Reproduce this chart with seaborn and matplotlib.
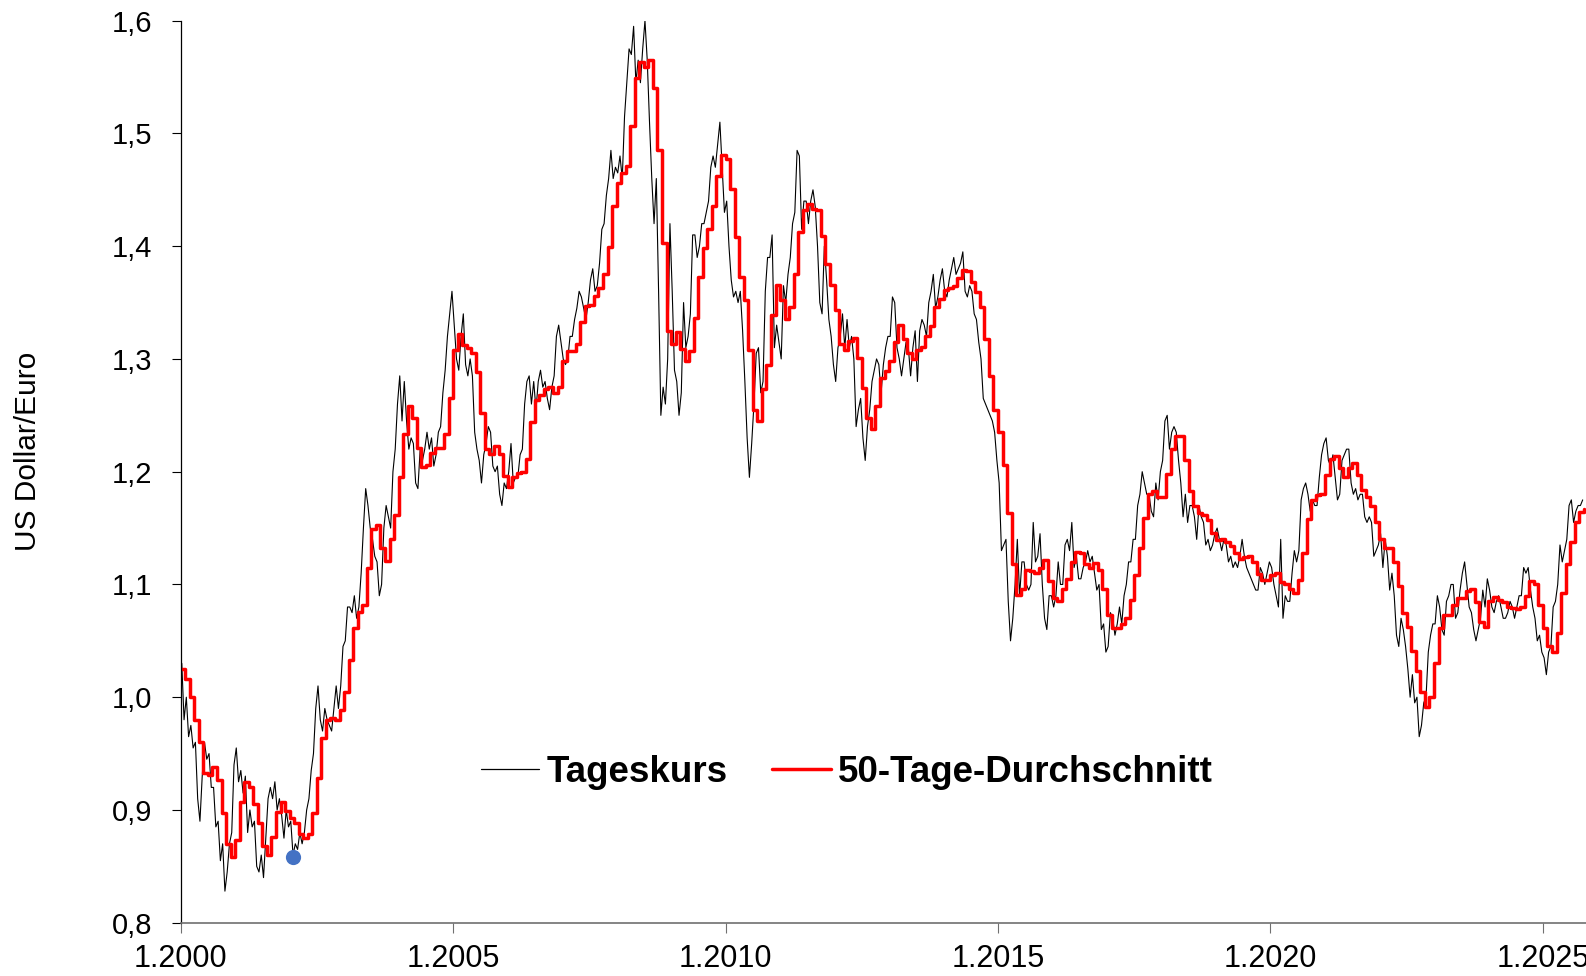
import matplotlib
matplotlib.use('Agg')
import matplotlib.pyplot as plt
import numpy as np
import seaborn as sns
from matplotlib.lines import Line2D
from matplotlib.ticker import FuncFormatter

sns.set_style('white')
plt.rcParams['font.family'] = ['Liberation Sans', 'DejaVu Sans']
plt.rcParams['text.color'] = 'black'
plt.rcParams['axes.labelcolor'] = 'black'
plt.rcParams['xtick.color'] = 'black'
plt.rcParams['ytick.color'] = 'black'

# Tageskurs: two readings per month (first half, second half), Jan 2000 .. Sep 2025
kurs_2000 = [1.03, 0.98, 1.00, 0.965, 0.975, 0.955, 0.96, 0.91, 0.89, 0.93, 0.96, 0.945,
             0.95, 0.92, 0.92, 0.885, 0.89, 0.855, 0.87, 0.828, 0.845, 0.87, 0.88, 0.94]
kurs_2001 = [0.955, 0.925, 0.935, 0.915, 0.93, 0.88, 0.90, 0.885, 0.89, 0.85, 0.845, 0.86,
             0.84, 0.875, 0.91, 0.92, 0.91, 0.925, 0.90, 0.91, 0.895, 0.875, 0.90, 0.885]
kurs_2002 = [0.89, 0.86, 0.87, 0.865, 0.88, 0.87, 0.88, 0.90, 0.91, 0.935, 0.95, 0.99,
             1.01, 0.98, 0.97, 0.99, 0.98, 0.975, 0.97, 0.99, 1.01, 0.99, 1.01, 1.045]
kurs_2003 = [1.05, 1.08, 1.08, 1.075, 1.09, 1.07, 1.08, 1.11, 1.15, 1.185, 1.17, 1.15,
             1.14, 1.125, 1.12, 1.09, 1.10, 1.15, 1.17, 1.16, 1.15, 1.20, 1.22, 1.26]
kurs_2004 = [1.285, 1.245, 1.28, 1.245, 1.22, 1.23, 1.225, 1.19, 1.185, 1.22, 1.21, 1.22,
             1.235, 1.22, 1.23, 1.205, 1.215, 1.235, 1.24, 1.27, 1.29, 1.32, 1.34, 1.36]
kurs_2005 = [1.33, 1.30, 1.29, 1.32, 1.34, 1.295, 1.285, 1.30, 1.285, 1.235, 1.22, 1.21,
             1.19, 1.215, 1.225, 1.24, 1.235, 1.205, 1.20, 1.205, 1.18, 1.17, 1.19, 1.185]
kurs_2006 = [1.20, 1.225, 1.19, 1.195, 1.195, 1.215, 1.22, 1.26, 1.28, 1.285, 1.26, 1.28,
             1.255, 1.28, 1.29, 1.275, 1.28, 1.265, 1.255, 1.275, 1.285, 1.32, 1.33, 1.315]
kurs_2007 = [1.30, 1.295, 1.30, 1.32, 1.32, 1.335, 1.345, 1.36, 1.355, 1.345, 1.335, 1.35,
             1.37, 1.38, 1.36, 1.365, 1.385, 1.415, 1.42, 1.445, 1.46, 1.485, 1.46, 1.47]
kurs_2008 = [1.465, 1.48, 1.46, 1.515, 1.545, 1.575, 1.57, 1.595, 1.545, 1.565, 1.545, 1.575,
             1.60, 1.565, 1.51, 1.46, 1.42, 1.46, 1.36, 1.25, 1.275, 1.26, 1.30, 1.42]
kurs_2009 = [1.36, 1.29, 1.28, 1.25, 1.27, 1.35, 1.31, 1.32, 1.34, 1.41, 1.41, 1.39,
             1.40, 1.42, 1.42, 1.43, 1.44, 1.47, 1.48, 1.47, 1.49, 1.51, 1.47, 1.43]
kurs_2010 = [1.44, 1.40, 1.37, 1.355, 1.36, 1.35, 1.36, 1.325, 1.28, 1.23, 1.195, 1.225,
             1.26, 1.305, 1.31, 1.27, 1.28, 1.36, 1.39, 1.39, 1.41, 1.31, 1.33, 1.315]
kurs_2011 = [1.30, 1.365, 1.35, 1.375, 1.39, 1.42, 1.43, 1.485, 1.48, 1.415, 1.44, 1.44,
             1.42, 1.44, 1.45, 1.435, 1.40, 1.35, 1.34, 1.40, 1.37, 1.335, 1.32, 1.295]
kurs_2012 = [1.28, 1.31, 1.32, 1.34, 1.31, 1.335, 1.31, 1.32, 1.30, 1.24, 1.255, 1.265,
             1.23, 1.21, 1.24, 1.255, 1.28, 1.29, 1.30, 1.295, 1.27, 1.295, 1.31, 1.32]
kurs_2013 = [1.32, 1.355, 1.35, 1.31, 1.30, 1.285, 1.30, 1.315, 1.31, 1.285, 1.31, 1.325,
             1.28, 1.325, 1.335, 1.33, 1.32, 1.35, 1.36, 1.375, 1.345, 1.355, 1.37, 1.38]
kurs_2014 = [1.36, 1.355, 1.37, 1.38, 1.39, 1.375, 1.38, 1.385, 1.395, 1.36, 1.355, 1.365,
             1.36, 1.34, 1.335, 1.315, 1.30, 1.265, 1.26, 1.255, 1.25, 1.245, 1.235, 1.21]
kurs_2015 = [1.19, 1.13, 1.135, 1.14, 1.085, 1.05, 1.07, 1.10, 1.14, 1.09, 1.12, 1.12,
             1.10, 1.095, 1.10, 1.155, 1.12, 1.125, 1.145, 1.10, 1.07, 1.06, 1.09, 1.09]
kurs_2016 = [1.08, 1.09, 1.12, 1.10, 1.10, 1.135, 1.14, 1.13, 1.155, 1.115, 1.125, 1.105,
             1.105, 1.115, 1.12, 1.13, 1.12, 1.125, 1.11, 1.095, 1.10, 1.06, 1.065, 1.04]
kurs_2017 = [1.045, 1.075, 1.07, 1.055, 1.065, 1.08, 1.065, 1.09, 1.10, 1.12, 1.12, 1.14,
             1.14, 1.17, 1.18, 1.20, 1.19, 1.18, 1.18, 1.165, 1.16, 1.19, 1.175, 1.20]
kurs_2018 = [1.21, 1.245, 1.25, 1.22, 1.235, 1.24, 1.235, 1.21, 1.19, 1.16, 1.18, 1.155,
             1.17, 1.17, 1.16, 1.14, 1.17, 1.16, 1.155, 1.135, 1.14, 1.13, 1.135, 1.145]
kurs_2019 = [1.15, 1.14, 1.13, 1.14, 1.135, 1.12, 1.125, 1.115, 1.12, 1.115, 1.125, 1.14,
             1.125, 1.115, 1.11, 1.105, 1.10, 1.095, 1.095, 1.115, 1.11, 1.10, 1.11, 1.12]
kurs_2020 = [1.115, 1.10, 1.09, 1.08, 1.14, 1.07, 1.09, 1.085, 1.085, 1.11, 1.13, 1.12,
             1.13, 1.175, 1.185, 1.19, 1.18, 1.165, 1.175, 1.17, 1.17, 1.195, 1.215, 1.225]
kurs_2021 = [1.23, 1.21, 1.205, 1.215, 1.195, 1.175, 1.18, 1.21, 1.215, 1.22, 1.22, 1.19,
             1.18, 1.185, 1.175, 1.18, 1.18, 1.16, 1.155, 1.16, 1.155, 1.125, 1.13, 1.135]
kurs_2022 = [1.145, 1.115, 1.14, 1.125, 1.095, 1.11, 1.09, 1.055, 1.045, 1.07, 1.06, 1.045,
             1.025, 1.00, 1.02, 0.995, 1.00, 0.965, 0.975, 0.995, 1.00, 1.04, 1.055, 1.065]
kurs_2023 = [1.065, 1.09, 1.08, 1.06, 1.055, 1.085, 1.09, 1.10, 1.10, 1.07, 1.075, 1.095,
             1.11, 1.12, 1.10, 1.08, 1.075, 1.06, 1.05, 1.06, 1.07, 1.095, 1.08, 1.105]
kurs_2024 = [1.095, 1.08, 1.075, 1.085, 1.09, 1.08, 1.07, 1.07, 1.075, 1.085, 1.08, 1.07,
             1.08, 1.09, 1.09, 1.115, 1.11, 1.115, 1.095, 1.08, 1.07, 1.05, 1.055, 1.04]
kurs_2025 = [1.035, 1.02, 1.04, 1.045, 1.08, 1.085, 1.10, 1.135, 1.12, 1.13, 1.14, 1.17,
             1.175, 1.155, 1.165, 1.17, 1.17, 1.175]

# 50-Tage-Durchschnitt at each month end (start value = end of 1999)
schnitt_start = [1.025]
schnitt_2000 = [1.016, 1.000, 0.980, 0.960, 0.933, 0.931, 0.938, 0.927, 0.897, 0.870, 0.858, 0.873]
schnitt_2001 = [0.907, 0.925, 0.920, 0.905, 0.888, 0.868, 0.860, 0.876, 0.898, 0.907, 0.899, 0.893]
schnitt_2002 = [0.888, 0.879, 0.875, 0.879, 0.897, 0.928, 0.964, 0.980, 0.982, 0.980, 0.989, 1.005]
schnitt_2003 = [1.033, 1.061, 1.076, 1.082, 1.115, 1.149, 1.153, 1.132, 1.121, 1.140, 1.162, 1.195]
schnitt_2004 = [1.233, 1.258, 1.248, 1.221, 1.204, 1.206, 1.217, 1.221, 1.221, 1.233, 1.265, 1.308]
schnitt_2005 = [1.322, 1.312, 1.310, 1.305, 1.288, 1.252, 1.220, 1.216, 1.223, 1.216, 1.196, 1.186]
schnitt_2006 = [1.195, 1.199, 1.200, 1.211, 1.244, 1.264, 1.268, 1.273, 1.275, 1.270, 1.275, 1.298]
schnitt_2007 = [1.307, 1.307, 1.313, 1.333, 1.347, 1.348, 1.356, 1.363, 1.375, 1.399, 1.436, 1.456]
schnitt_2008 = [1.465, 1.471, 1.507, 1.549, 1.563, 1.559, 1.565, 1.540, 1.485, 1.403, 1.325, 1.313]
schnitt_2009 = [1.324, 1.309, 1.298, 1.307, 1.336, 1.373, 1.398, 1.415, 1.436, 1.462, 1.481, 1.477]
schnitt_2010 = [1.451, 1.408, 1.373, 1.352, 1.308, 1.255, 1.245, 1.273, 1.295, 1.339, 1.366, 1.352]
schnitt_2011 = [1.335, 1.346, 1.375, 1.413, 1.432, 1.437, 1.433, 1.432, 1.409, 1.384, 1.366, 1.343]
schnitt_2012 = [1.313, 1.308, 1.316, 1.319, 1.301, 1.274, 1.248, 1.238, 1.258, 1.283, 1.289, 1.298]
schnitt_2013 = [1.315, 1.330, 1.318, 1.305, 1.300, 1.308, 1.311, 1.320, 1.329, 1.346, 1.353, 1.361]
schnitt_2014 = [1.363, 1.365, 1.372, 1.379, 1.378, 1.368, 1.359, 1.346, 1.318, 1.285, 1.255, 1.235]
schnitt_2015 = [1.206, 1.163, 1.118, 1.091, 1.096, 1.113, 1.112, 1.110, 1.115, 1.122, 1.103, 1.088]
schnitt_2016 = [1.085, 1.096, 1.105, 1.120, 1.129, 1.128, 1.118, 1.115, 1.119, 1.113, 1.096, 1.073]
schnitt_2017 = [1.061, 1.061, 1.065, 1.070, 1.086, 1.108, 1.132, 1.159, 1.180, 1.183, 1.178, 1.178]
schnitt_2018 = [1.198, 1.220, 1.232, 1.232, 1.210, 1.183, 1.170, 1.163, 1.162, 1.157, 1.146, 1.139]
schnitt_2019 = [1.140, 1.138, 1.134, 1.128, 1.123, 1.124, 1.125, 1.120, 1.109, 1.104, 1.104, 1.108]
schnitt_2020 = [1.110, 1.102, 1.100, 1.096, 1.092, 1.104, 1.128, 1.158, 1.175, 1.179, 1.180, 1.197]
schnitt_2021 = [1.211, 1.214, 1.203, 1.195, 1.203, 1.208, 1.197, 1.184, 1.178, 1.170, 1.155, 1.140]
schnitt_2022 = [1.132, 1.132, 1.120, 1.099, 1.075, 1.062, 1.041, 1.023, 1.005, 0.991, 1.000, 1.030]
schnitt_2023 = [1.061, 1.073, 1.073, 1.082, 1.088, 1.088, 1.094, 1.096, 1.084, 1.067, 1.062, 1.085]
schnitt_2024 = [1.089, 1.086, 1.084, 1.080, 1.079, 1.078, 1.080, 1.090, 1.103, 1.100, 1.082, 1.061]
schnitt_2025 = [1.045, 1.040, 1.057, 1.092, 1.118, 1.138, 1.155, 1.164, 1.167]

# marked point (blue dot)
punkt_jahr = [2002.07]
punkt_kurs = [0.858]

y_ticks = [0.8, 0.9, 1.0, 1.1, 1.2, 1.3, 1.4, 1.5, 1.6]
x_ticks = [2000, 2005, 2010, 2015, 2020, 2025]


def collect(prefix):
    g = globals()
    values = []
    for year in range(2000, 2026):
        values += g[f'{prefix}_{year}']
    return np.array(values)


def plot():
    kurs = collect('kurs')
    schnitt = np.array(schnitt_start + list(collect('schnitt')))

    kurs_x = 2000 + (np.arange(len(kurs)) + 0.5) / 24
    schnitt_x = 2000 + np.arange(len(schnitt)) / 12

    fig = plt.figure(figsize=(15.86, 9.76), dpi=100)
    ax = fig.add_axes([0.1139, 0.0546, 0.8861, 0.9242])

    sns.lineplot(x=kurs_x, y=kurs, ax=ax, color='black', linewidth=0.8,
                 estimator=None, sort=False)
    sns.lineplot(x=schnitt_x, y=schnitt, ax=ax, color='#ff0000', linewidth=2.5,
                 estimator=None, sort=False, drawstyle='steps-post')
    ax.scatter(punkt_jahr, punkt_kurs, s=120, color='#4472C4', zorder=5, linewidths=0)

    ax.set_xlim(2000, 2025.79)
    ax.set_ylim(0.8, 1.6)
    ax.set_yticks(y_ticks)
    ax.set_xticks(x_ticks)
    ax.yaxis.set_major_formatter(FuncFormatter(lambda v, p: f'{v:.1f}'.replace('.', ',')))
    ax.xaxis.set_major_formatter(FuncFormatter(lambda v, p: f'1.{int(round(v))}'))

    for side in ['top', 'right']:
        ax.spines[side].set_visible(False)
    ax.spines['left'].set_color('black')
    ax.spines['left'].set_linewidth(0.9)
    ax.spines['bottom'].set_color('#707070')
    ax.spines['bottom'].set_linewidth(1.2)

    ax.tick_params(axis='y', direction='out', length=6.5, width=0.8, color='black',
                   labelcolor='black', labelsize=21, pad=14, left=True)
    ax.tick_params(axis='x', direction='out', length=7, width=0.8, color='#707070',
                   labelcolor='black', labelsize=22, pad=8, bottom=True)

    ax.set_ylabel('US Dollar/Euro', fontsize=21.5, color='black')
    ax.yaxis.set_label_coords(-0.099, 0.522)
    ax.set_xlabel('')

    handles = [Line2D([], [], color='black', linewidth=0.9),
               Line2D([], [], color='#ff0000', linewidth=2.5)]
    leg = ax.legend(handles, ['Tageskurs', '50-Tage-Durchschnitt'], ncol=2, frameon=False,
                    loc='center left', bbox_to_anchor=(0.303, 0.209),
                    bbox_transform=fig.transFigure, borderpad=0, borderaxespad=0,
                    handlelength=1.6, handletextpad=0.2, columnspacing=1.2,
                    prop={'size': 26.5, 'weight': 'bold'})
    for text in leg.get_texts():
        text.set_color('black')

    fig.savefig('out.png', dpi=100)


if __name__ == "__main__":
    plot()
